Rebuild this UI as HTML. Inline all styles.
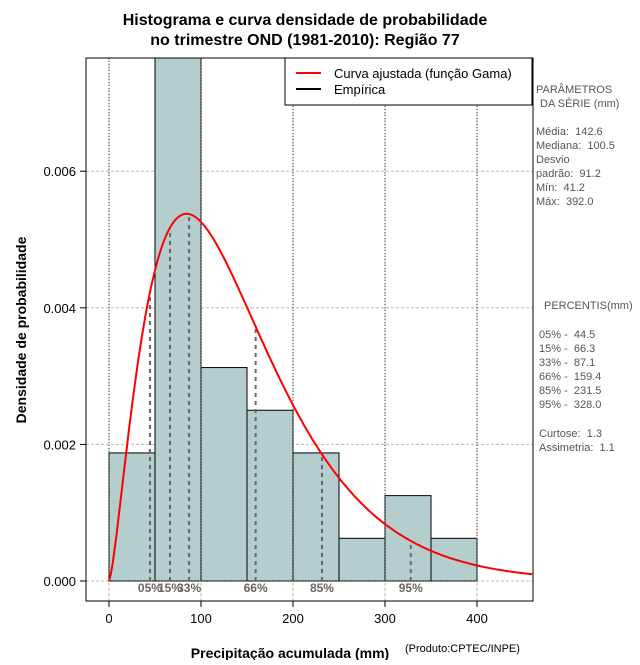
<!DOCTYPE html>
<html><head><meta charset="utf-8"><style>
body{margin:0;background:#fff;font-family:"Liberation Sans",sans-serif}
text{white-space:pre}
</style></head><body>
<svg id="c" width="640" height="660" xmlns="http://www.w3.org/2000/svg" font-family="Liberation Sans, sans-serif">
<text x="305" y="25" text-anchor="middle" font-size="16" font-weight="bold">Histograma e curva densidade de probabilidade</text>
<text x="305" y="45" text-anchor="middle" font-size="16" font-weight="bold">no trimestre OND (1981-2010): Região 77</text>
<g id="plot"></g>
<text x="290" y="658" text-anchor="middle" font-size="14" font-weight="bold">Precipitação acumulada (mm)</text>
<text x="405" y="652" font-size="11">(Produto:CPTEC/INPE)</text>
<text transform="translate(26,330) rotate(-90)" text-anchor="middle" font-size="14" font-weight="bold">Densidade de probabilidade</text>
<g font-size="11" fill="#555">
<text x="536" y="93">PARÂMETROS</text><text x="540" y="107">DA SÉRIE (mm)</text>
<text x="536" y="135">Média:  142.6</text><text x="536" y="149">Mediana:  100.5</text>
<text x="536" y="163">Desvio</text><text x="536" y="177">padrão:  91.2</text>
<text x="536" y="191">Mín:  41.2</text><text x="536" y="205">Máx:  392.0</text>
<text x="544" y="309">PERCENTIS(mm)</text>
<text x="539" y="338">05% -  44.5</text><text x="539" y="352">15% -  66.3</text>
<text x="539" y="366">33% -  87.1</text><text x="539" y="380">66% -  159.4</text>
<text x="539" y="394">85% -  231.5</text><text x="539" y="408">95% -  328.0</text>
<text x="539" y="437">Curtose:  1.3</text><text x="539" y="451">Assimetria:  1.1</text>
</g>
</svg>
<script>
const binStarts=[0,50,100,150,200,250,300,350];
const densities=[0.001875,0.008125,0.003125,0.0025,0.001875,0.000625,0.00125,0.000625];
const binWidth=50;
const gammaMean=142.6, gammaSd=91.2;
const pctLabels=["05%","15%","33%","66%","85%","95%"];
const pctValues=[44.5,66.3,87.1,159.4,231.5,328.0];
const xTicks=[0,100,200,300,400];
const yTicks=[0,0.002,0.004,0.006];
const yTickLabels=["0.000","0.002","0.004","0.006"];

const L=86,R=533,T=58,B=601;
const X=v=>109+v*0.92;
const Y=v=>581-v*68300;
const NS="http://www.w3.org/2000/svg";
const g=document.getElementById('plot');
function mk(t,a,p){const e=document.createElementNS(NS,t);for(const k in a)e.setAttribute(k,a[k]);(p||g).appendChild(e);return e;}
const cp=mk('clipPath',{id:'clip'});mk('rect',{x:L,y:T,width:R-L,height:B-T},cp);
xTicks.forEach(v=>{const e=mk('line',{x1:X(v),x2:X(v),y1:T,y2:B,stroke:'#bbb','stroke-dasharray':'3,2'});});
yTicks.forEach(v=>{const e=mk('line',{x1:L,x2:R,y1:Y(v),y2:Y(v),stroke:'#bbb','stroke-dasharray':'3,2'});});
const bg=mk('g',{'clip-path':'url(#clip)'});
binStarts.forEach((s,i)=>{const y=Y(densities[i]);const e=mk('rect',{x:X(s),y:y,width:X(s+binWidth)-X(s),height:Y(0)-y,fill:'#b4cece',stroke:'#000','stroke-width':1},bg);});
xTicks.forEach(v=>mk('line',{x1:X(v),x2:X(v),y1:T,y2:Y(0),stroke:'#333','stroke-dasharray':'1,2'},bg));
mk('line',{x1:X(0),x2:X(400),y1:Y(0),y2:Y(0),stroke:'#333','stroke-dasharray':'1,2'},bg);
const k=(gammaMean/gammaSd)**2, th=gammaSd*gammaSd/gammaMean;
function lgamma(z){const c=[76.18009172947146,-86.50532032941677,24.01409824083091,-1.231739572450155,0.1208650973866179e-2,-0.5395239384953e-5];let x=z,y=z,t=x+5.5;t-=(x+0.5)*Math.log(t);let s=1.000000000190015;for(const q of c)s+=q/++y;return -t+Math.log(2.5066282746310005*s/x);}
const pdf=x=>x<=0?0:Math.exp((k-1)*Math.log(x)-x/th-k*Math.log(th)-lgamma(k));
pctValues.forEach((v,i)=>{const e=mk('line',{x1:X(v),x2:X(v),y1:Y(0),y2:Y(pdf(v)),stroke:'#666','stroke-width':2,'stroke-dasharray':'4,4'},bg);
const t=mk('text',{x:X(v),y:592,'text-anchor':'middle','font-size':12,'font-weight':'bold',fill:'#666'});t.textContent=pctLabels[i];});
let d='';for(let x=0;x<=460;x+=2)d+=(x?'L':'M')+X(x).toFixed(1)+','+Y(pdf(x)).toFixed(1);
const cv=mk('path',{d:d,fill:'none',stroke:'#f00','stroke-width':2},bg);
mk('rect',{x:L,y:T,width:R-L,height:B-T,fill:'none',stroke:'#000'});
xTicks.forEach(v=>{mk('line',{x1:X(v),x2:X(v),y1:B,y2:B+6,stroke:'#000'});const t=mk('text',{x:X(v),y:B+22,'text-anchor':'middle','font-size':13});t.textContent=v;});
yTicks.forEach((v,i)=>{mk('line',{x1:L-6,x2:L,y1:Y(v),y2:Y(v),stroke:'#000'});const t=mk('text',{x:L-10,y:Y(v)+5,'text-anchor':'end','font-size':13});t.textContent=yTickLabels[i];});
const lg=mk('g',{});
mk('rect',{x:285,y:58,width:247,height:47,fill:'#fff',stroke:'#000'},lg);
mk('line',{x1:296,x2:321,y1:73,y2:73,stroke:'#f00','stroke-width':2},lg);
mk('line',{x1:296,x2:321,y1:89,y2:89,stroke:'#000','stroke-width':2},lg);
let t=mk('text',{x:334,y:78,'font-size':13},lg);t.textContent='Curva ajustada (função Gama)';
t=mk('text',{x:334,y:94,'font-size':13},lg);t.textContent='Empírica';
</script>
</body></html>
